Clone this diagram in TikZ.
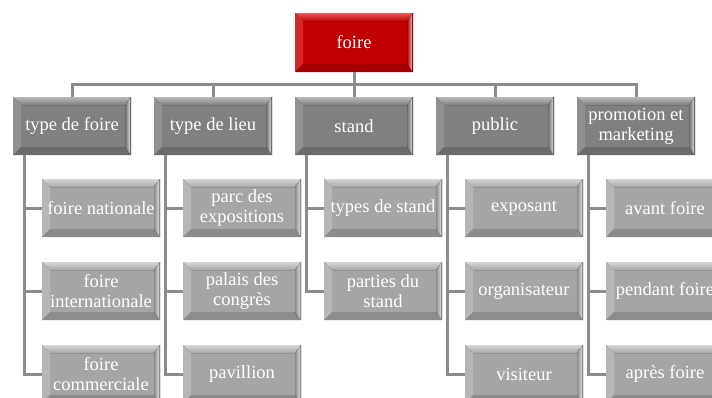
\documentclass[tikz,border=0pt]{standalone}
\usepackage{fontspec}
\setmainfont{Liberation Serif}
\usetikzlibrary{calc}

\definecolor{redmain}{RGB}{192,0,0}
\definecolor{redtop}{RGB}{232,90,90}
\definecolor{redleft}{RGB}{210,40,40}
\definecolor{redbot}{RGB}{165,0,0}
\definecolor{redhl}{RGB}{255,215,220}
\definecolor{dkmain}{RGB}{128,128,128}
\definecolor{dktop}{RGB}{185,185,185}
\definecolor{dkleft}{RGB}{145,145,145}
\definecolor{dkbot}{RGB}{108,108,108}
\definecolor{ltmain}{RGB}{165,165,165}
\definecolor{lttop}{RGB}{215,215,215}
\definecolor{ltleft}{RGB}{182,182,182}
\definecolor{ltbot}{RGB}{140,140,140}
\definecolor{hlblue}{RGB}{225,235,245}
\definecolor{connc}{RGB}{140,140,140}

\tikzset{
  bevel/.style n args={5}{path picture={
    \coordinate (bvA) at (path picture bounding box.south west);
    \coordinate (bvB) at (path picture bounding box.north east);
    \coordinate (bvNW) at (bvA|-bvB);
    \coordinate (bvSE) at (bvB|-bvA);
    \coordinate (bviA) at ([shift={(8pt,8pt)}]bvA);
    \coordinate (bviB) at ([shift={(-6pt,-8pt)}]bvB);
    \coordinate (bviNW) at (bviA|-bviB);
    \coordinate (bviSE) at (bviB|-bviA);
    \fill[#1] (bvA) rectangle (bvB);
    \fill[top color=#2, bottom color=#1] (bvNW) -- (bvB) -- (bviB) -- (bviNW) -- cycle;
    \fill[#3] (bvNW) -- (bviNW) -- (bviA) -- (bvA) -- cycle;
    \fill[#4] (bvA) -- (bviA) -- (bviSE) -- (bvSE) -- cycle;
    \fill[left color=#4, right color=#5] (bvSE) -- (bviSE) -- (bviB) -- (bvB) -- cycle;
    \draw[#4, line width=0.8pt] ([xshift=-0.4pt]bvSE) -- ([xshift=-0.4pt]bvB);
  }},
  boxbase/.style={rectangle, minimum width=118pt, minimum height=58pt,
    inner sep=0pt, text=white, align=center,
    font=\fontsize{18.5}{20}\selectfont},
  rootbox/.style={boxbase, minimum height=59pt,
    bevel={redmain}{redtop}{redleft}{redbot}{redhl}},
  lvlbox/.style={boxbase, bevel={dkmain}{dktop}{dkleft}{dkbot}{hlblue}},
  kidbox/.style={boxbase, bevel={ltmain}{lttop}{ltleft}{ltbot}{hlblue}},
  conn/.style={draw=connc, line width=3pt},
}

\begin{document}
\begin{tikzpicture}[x=1pt, y=-1pt]
\useasboundingbox (0,0) rectangle (712,397);
\clip (0,0) rectangle (712,397);
\fill[white] (0,0) rectangle (712,397);

\node[rootbox] (root) at (354,42.5) {foire};

\node[lvlbox] (a1) at (72,126) {type de foire};
\node[lvlbox] (a2) at (213,126) {type de lieu};
\node[lvlbox] (a3) at (354,126) {stand};
\node[lvlbox] (a4) at (495,126) {public};
\node[lvlbox] (a5) at (636,126) {promotion et\\marketing};

\node[kidbox] (c11) at (101,208) {foire nationale};
\node[kidbox] (c12) at (101,291) {foire\\internationale};
\node[kidbox] (c13) at (101,374) {foire\\commerciale};

\node[kidbox] (c21) at (242,208) {parc des\\expositions};
\node[kidbox] (c22) at (242,291) {palais des\\congrès};
\node[kidbox] (c23) at (242,374) {pavillion};

\node[kidbox] (c31) at (383,208) {types de stand};
\node[kidbox] (c32) at (383,291) {parties du\\stand};

\node[kidbox] (c41) at (524,208) {exposant};
\node[kidbox] (c42) at (524,291) {organisateur};
\node[kidbox] (c43) at (524,374) {visiteur};

\node[kidbox] (c51) at (665,208) {avant foire};
\node[kidbox] (c52) at (665,291) {pendant foire};
\node[kidbox] (c53) at (665,374) {après foire};

\draw[conn] (root.south) -- ++(0,12) coordinate (bus);
\foreach \n in {a1,a2,a3,a4,a5}{
  \draw[conn] (bus) -| (\n.north);
}

\foreach \p/\k in {a1/c11,a1/c12,a1/c13,a2/c21,a2/c22,a2/c23,a3/c31,a3/c32,a4/c41,a4/c42,a4/c43,a5/c51,a5/c52,a5/c53}{
  \draw[conn] ([xshift=12pt]\p.south west) |- (\k.west);
}
\end{tikzpicture}
\end{document}
